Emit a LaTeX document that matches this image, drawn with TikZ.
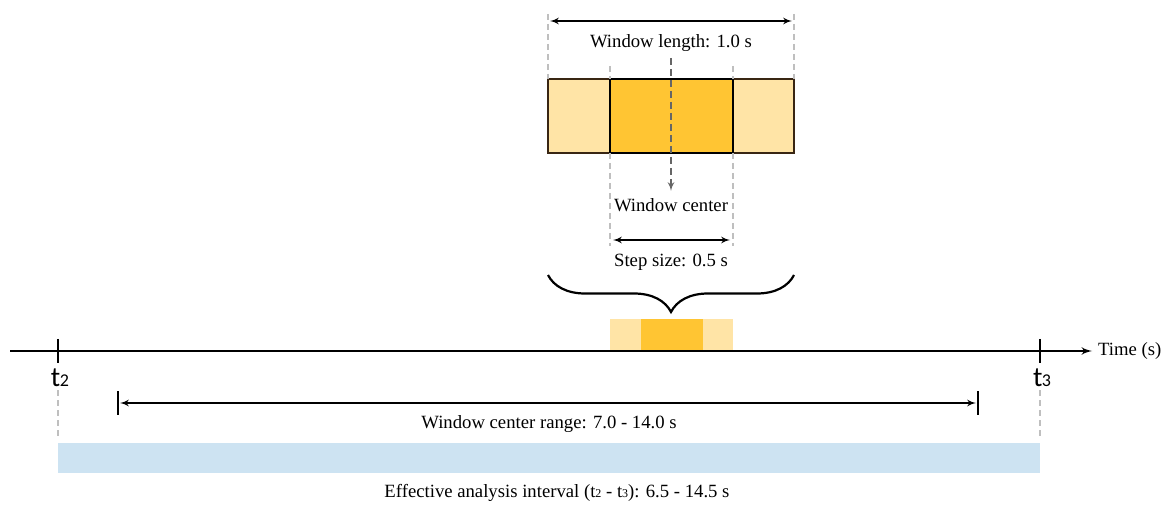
\documentclass[tikz,border=0pt]{standalone}
\usepackage{fontspec}
\setmainfont{Liberation Serif}
\newfontfamily\tfont{Carlito}
\usetikzlibrary{arrows, decorations.pathreplacing}

\definecolor{winlight}{HTML}{FFE4A6}
\definecolor{windark}{HTML}{FFC533}
\definecolor{effblue}{HTML}{CDE3F2}

\begin{document}
\begin{tikzpicture}[x=1pt, y=-1pt]

\tikzset{label/.style = {font=\fontsize{18.7}{22}\selectfont, inner sep=0pt}}
\tikzset{guide/.style = {draw=black!25, dash pattern=on 6pt off 4pt, line width=1.2pt}}
\tikzset{span/.style = {<->, > = latex', line width=2pt}}
\useasboundingbox (0,0) rectangle (1171,513);

%top window
\fill[winlight, draw=black!70!brown, line width=1.3pt] (548,79) rectangle (794,153);
\fill[windark] (610,79) rectangle (733,153);
\draw[line width=2.6pt] (610,79) rectangle (733,153);
\draw[guide] (548,14) -- (548,79);
\draw[guide] (794,14) -- (794,79);
\draw[guide] (610,66) -- (610,79);
\draw[guide] (733,66) -- (733,79);
\draw[guide] (610,153) -- (610,246);
\draw[guide] (733,153) -- (733,246);

\coordinate (wl1) at (550,21);
\coordinate (wl2) at (792,21);
\draw[span] (wl1) -- (wl2);
\node[label] (wlen) at (671,43) {Window length: 1.0 s};

%center marker
\coordinate (c1) at (671,58);
\coordinate (c2) at (671,191);
\draw[black!60, dash pattern=on 7pt off 4pt, line width=2pt, -latex'] (c1) -- (c2);
\node[label] (wcen) at (671,205) {Window center};

\coordinate (s1) at (613,240);
\coordinate (s2) at (730,240);
\draw[span] (s1) -- (s2);
\node[label] (step) at (671,262) {Step size: 0.5 s};

%brace
\coordinate (b1) at (548,275);
\coordinate (b2) at (794,275);
\draw[decorate, decoration={brace, amplitude=37pt, mirror}, line width=2.2pt] (b1) -- (b2);

%small window on axis
\fill[winlight] (610,319) rectangle (733,350);
\fill[windark] (641,319) rectangle (703,350);

%time axis
\coordinate (ax1) at (10,351);
\coordinate (ax2) at (1092,351);
\draw[line width=2.6pt, -latex'] (ax1) -- (ax2);
\node[label, anchor=west] (time) at (1098,351) {Time (s)};
\draw[line width=2.2pt] (58,339) -- (58,363);
\draw[line width=2.2pt] (1040,339) -- (1040,363);
\node[inner sep=0pt, font=\tfont\fontsize{28}{30}\selectfont] (t2) at (60,378) {t\kern-0.5pt{\fontsize{18}{18}\selectfont 2}};
\node[inner sep=0pt, font=\tfont\fontsize{28}{30}\selectfont] (t3) at (1042,378) {t\kern-0.5pt{\fontsize{18}{18}\selectfont 3}};
\draw[guide] (58,390) -- (58,437);
\draw[guide] (1040,390) -- (1040,437);

%center range
\draw[line width=2.2pt] (118,391) -- (118,415);
\draw[line width=2.2pt] (978,391) -- (978,415);
\coordinate (r1) at (120,403);
\coordinate (r2) at (976,403);
\draw[span] (r1) -- (r2);
\node[label] (range) at (549,424) {Window center range: 7.0 - 14.0 s};

%effective interval
\fill[effblue] (58,443) rectangle (1040,473);
\node[label] (eff) at (557,493) {Effective analysis interval (t{\fontsize{12}{12}\selectfont 2} - t{\fontsize{12}{12}\selectfont 3}): 6.5 - 14.5 s};

\end{tikzpicture}
\end{document}
